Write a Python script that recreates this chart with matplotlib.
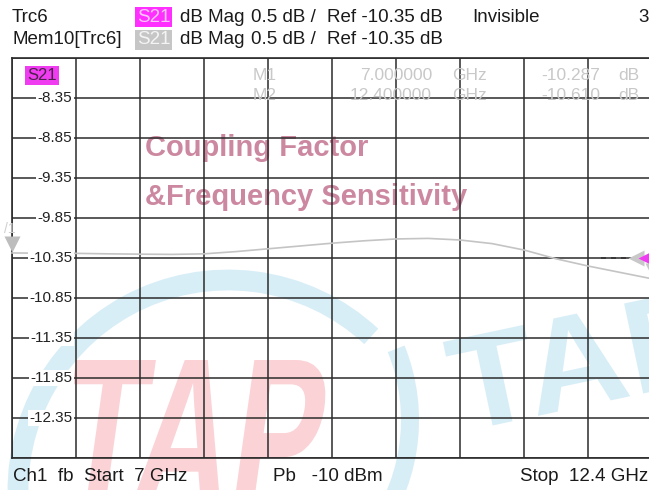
import matplotlib
matplotlib.use('Agg')

import matplotlib.pyplot as plt
import numpy as np
from matplotlib.textpath import TextPath
from matplotlib.patches import PathPatch, Arc
from matplotlib.font_manager import FontProperties
from matplotlib.transforms import Affine2D, offset_copy, blended_transform_factory

plt.rcParams['font.family'] = ['Liberation Sans', 'DejaVu Sans']

W, H = 649, 490

# ── data ──────────────────────────────────────────────────────────────────
freq_start, freq_stop = 7.0, 12.4
ref_db, db_per_div, n_div = -10.35, 0.5, 10

freq_ghz = [7.00, 7.27, 7.54, 7.81, 8.08, 8.35, 8.62, 8.89, 9.16, 9.43, 9.70,
            9.97, 10.24, 10.51, 10.78, 11.05, 11.32, 11.59, 11.86, 12.13, 12.40]
s21_db = [-10.287, -10.290, -10.292, -10.298, -10.302, -10.305, -10.298,
          -10.270, -10.235, -10.200, -10.165, -10.135, -10.112, -10.105,
          -10.125, -10.170, -10.250, -10.360, -10.450, -10.530, -10.610]

marker_names = ['M1', 'M2']
marker_freq = [7.000000, 12.400000]
marker_db = [-10.287, -10.610]

_GRID = '#2b2b2b'
_TRACE = '#c4c4c4'
_MAG = '#f03cf0'
_PALE = '#c8c8c8'
_INK = '#1a1a1a'
_WM_TXT = '#cc88a0'
_WM_RED = '#fbd3d6'
_WM_CYAN = '#d8eef7'
FS = 13.5


def fx(x):
    return x / W


def fy(y):
    return 1 - y / H


fig = plt.figure(figsize=(W / 100, H / 100), dpi=100, facecolor='white')


# ── watermark (behind the grid) ───────────────────────────────────────────
def watermark(s, x, y, height, width, color, skew=0, rot=0):
    tp = TextPath((0, 0), s, size=1,
                  prop=FontProperties(family='Liberation Sans', weight='bold'))
    bb = tp.get_extents()
    tr = (Affine2D().translate(-bb.x0, -bb.y0)
          .scale(width / bb.width, height / bb.height)
          .skew_deg(skew, 0).rotate_deg(rot).translate(x, H - y))
    fig.add_artist(PathPatch(tp, transform=tr, fc=color, ec='none', zorder=-3))


fig.add_artist(Arc((228, H - 490), 420, 420, theta1=47, theta2=190,
                   transform=Affine2D(), color=_WM_CYAN, lw=15, zorder=-3))
fig.add_artist(Arc((220, H - 420), 380, 380, theta1=-40, theta2=22,
                   transform=Affine2D(), color=_WM_CYAN, lw=13, zorder=-3))
watermark('TAP', 55, 510, 150, 255, _WM_RED, skew=8)
watermark('TAP', 462, 432, 92, 265, _WM_CYAN, rot=12)

fig.text(fx(145), fy(148), 'Coupling Factor', fontsize=21, fontweight='bold',
         color=_WM_TXT, va='center', zorder=-2)
fig.text(fx(145), fy(197), '&Frequency Sensitivity', fontsize=21,
         fontweight='bold', color=_WM_TXT, va='center', zorder=-2)

# ── diagram area ──────────────────────────────────────────────────────────
ax = fig.add_axes([fx(12), fy(458), 640 / W, 400 / H])
ax.set_facecolor('none')
ax.set_xlim(freq_start, freq_stop)
ax.set_ylim(ref_db - db_per_div * n_div / 2, ref_db + db_per_div * n_div / 2)
ax.set_xticks(np.linspace(freq_start, freq_stop, n_div + 1))
y_lines = ref_db + db_per_div * np.arange(-n_div // 2, n_div // 2 + 1)
ax.set_yticks(y_lines)
ax.grid(True, color=_GRID, lw=1.1)
ax.tick_params(length=0, labelleft=False, labelbottom=False)
for s in ax.spines.values():
    s.set_color(_GRID)
    s.set_linewidth(1.2)

blend = blended_transform_factory(ax.transAxes, ax.transData)
for v in y_lines[1:-1]:
    ax.text(0.094, v, f'{v:.2f}', transform=blend, ha='right', va='center',
            fontsize=11, color='#222222', zorder=5,
            bbox=dict(fc='white', ec='none', pad=1.0))

ax.plot(freq_ghz, s21_db, color=_TRACE, lw=1.2, zorder=4, clip_on=False)

# marker 1 triangle + label
up = offset_copy(ax.transData, fig=fig, x=0, y=9, units='dots')
ax.plot(marker_freq[0], marker_db[0], marker='v', ms=11, color='#bdbdbd',
        mec='none', transform=up, clip_on=False, zorder=6)
ax.text(marker_freq[0], marker_db[0], '/1', transform=offset_copy(
    ax.transData, fig=fig, x=-8, y=24, units='dots'),
    fontsize=10, color='#cfcfcf', va='center', zorder=6)

# right side: reference arrow, marker 2
ax.plot([0.92, 0.965], [ref_db, ref_db], transform=blend, color='#333333',
        lw=1.2, ls=(0, (3, 3)), zorder=5)
ax.plot(0.975, ref_db, marker='<', ms=12, color='#c8c8c8', mec='none',
        transform=blend, zorder=6, clip_on=False)
ax.plot(0.99, ref_db, marker='<', ms=11, color=_MAG, mec='none',
        transform=blend, zorder=7, clip_on=False)
ax.plot(marker_freq[1], marker_db[1], marker='v', ms=10, color='#c8c8c8',
        mec='none', transform=up, zorder=6, clip_on=False)

# S21 tag inside plot
fig.text(fx(27), fy(75), 'S21', fontsize=12, color='#4a224a', va='center',
         bbox=dict(fc=_MAG, ec='none', pad=1.5))

# marker readout
for i, (name, f, d) in enumerate(zip(marker_names, marker_freq, marker_db)):
    yy = fy(75 + 21 * i)
    fig.text(fx(253), yy, name, fontsize=12.5, color=_PALE, va='center')
    fig.text(fx(432), yy, f'{f:.6f}', fontsize=12.5, color=_PALE, va='center', ha='right')
    fig.text(fx(452), yy, 'GHz', fontsize=12.5, color=_PALE, va='center')
    fig.text(fx(600), yy, f'{d:.3f}', fontsize=12.5, color=_PALE, va='center', ha='right')
    fig.text(fx(618), yy, 'dB', fontsize=12.5, color=_PALE, va='center')


# ── header ───────────────────────────────────────────────────────────────
def scale_line(y):
    fig.text(fx(180), fy(y), 'dB Mag', fontsize=FS, va='center', color=_INK)
    fig.text(fx(251), fy(y), f'{db_per_div} dB /', fontsize=FS, va='center', color=_INK)
    fig.text(fx(327), fy(y), f'Ref {ref_db:.2f} dB', fontsize=FS, va='center', color=_INK)


fig.text(fx(12), fy(17), 'Trc6', fontsize=FS, va='center', color=_INK)
fig.text(fx(137), fy(17), 'S21', fontsize=FS, va='center', color='#f8c8f8',
         bbox=dict(fc='#ff30ff', ec='none', pad=1.2))
scale_line(17)
fig.text(fx(472), fy(17), 'Invisible', fontsize=FS, va='center', color=_INK)
fig.text(fx(638), fy(17), '3', fontsize=FS, va='center', color=_INK)

fig.text(fx(12), fy(40), 'Mem10[Trc6]', fontsize=FS, va='center', color=_INK)
fig.text(fx(137), fy(40), 'S21', fontsize=FS, va='center', color='#f4f4f4',
         bbox=dict(fc='#c6c6c6', ec='none', pad=1.2))
scale_line(40)

# ── footer ───────────────────────────────────────────────────────────────
fig.text(fx(13), fy(476), f'Ch1  fb  Start  {freq_start:g} GHz', fontsize=FS,
         va='center', color=_INK)
fig.text(fx(273), fy(476), 'Pb   -10 dBm', fontsize=FS, va='center', color=_INK)
fig.text(fx(648), fy(476), f'Stop  {freq_stop:g} GHz', fontsize=FS, va='center',
         ha='right', color=_INK)

fig.savefig('out.png', dpi=100, facecolor='white')
